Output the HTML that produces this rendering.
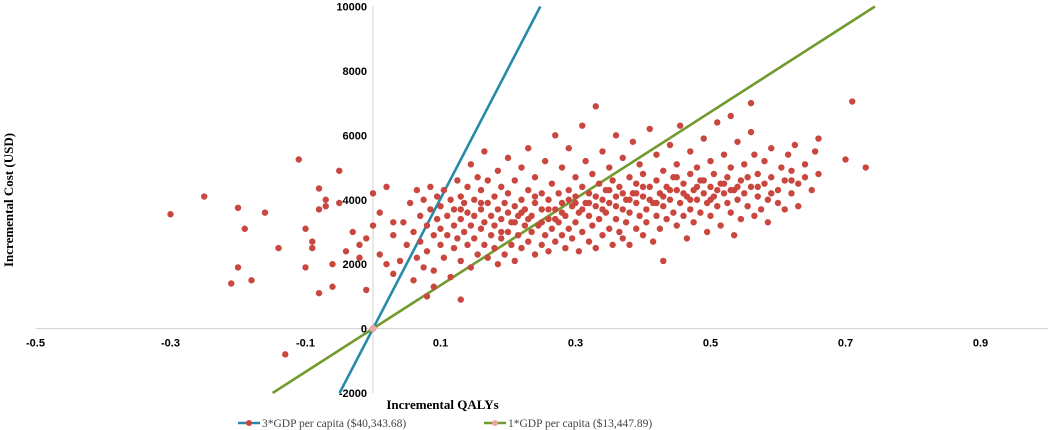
<!DOCTYPE html>
<html><head><meta charset="utf-8">
<style>
html,body{margin:0;padding:0;background:#fff;}
svg{display:block;font-family:"Liberation Serif",serif;}
</style></head>
<body>
<svg id="chart" width="1052" height="430">
  <g id="axes"></g>
  <g id="lines"></g>
  <g id="points"></g>
  <g id="labels"></g>
</svg>
<script>
const xTicks=[-0.5,-0.3,-0.1,0.1,0.3,0.5,0.7,0.9];
const yTicks=[-2000,0,2000,4000,6000,8000,10000];
const thresholds=[40343.68,13447.89];
const thresholdNames=["3*GDP per capita ($40,343.68)","1*GDP per capita ($13,447.89)"];
const thresholdColors=["#2a8aa6","#739a2e"];
// [incremental QALY, incremental cost]
const samples=[
[-0.30,3550],[-0.25,4100],[-0.20,3750],[-0.20,1900],[-0.21,1400],[-0.19,3100],[-0.16,3600],[-0.14,2500],[-0.18,1500],[-0.11,5250],[-0.10,3100],[-0.10,1900],[-0.09,2700],[-0.09,2500],[-0.08,1100],[-0.08,3700],[-0.08,4350],[-0.07,4000],[-0.07,3800],[-0.06,1300],[-0.06,2000],[-0.05,4900],[-0.05,3900],[-0.04,2400],[-0.03,3000],[-0.02,2200],[-0.02,2600],[-0.01,1200],[-0.01,2800],[0.0,3200],[0.0,4200],[0.01,2300],[0.01,3600],[0.02,2000],[0.02,4400],[0.03,2900],[0.03,3300],[-0.13,-800],[0.13,900],[0.09,1300],[0.08,1000],[0.03,1700],
[0.04,2100],[0.045,3300],[0.05,2600],[0.055,3900],[0.06,1500],[0.06,3000],[0.065,4300],[0.065,2200],[0.07,3500],[0.07,2700],[0.075,4000],[0.075,1900],
[0.08,3200],[0.08,2400],[0.085,3700],[0.085,4400],[0.09,2900],[0.09,1800],[0.095,3400],[0.095,4100],[0.1,2600],[0.1,3100],[0.1,3800],[0.105,2200],[0.105,4300],[0.11,2900],[0.11,3500],[0.115,1600],[0.115,4000],
[0.12,2500],[0.12,3200],[0.12,3700],[0.125,4600],[0.125,2800],[0.13,3400],[0.13,2100],[0.13,4100],[0.135,3000],[0.135,3900],[0.14,2600],[0.14,3600],[0.14,4400],[0.145,1900],[0.145,3200],[0.145,5100],
[0.15,2800],[0.15,3500],[0.15,4000],[0.155,2300],[0.155,4700],[0.16,3100],[0.16,3700],[0.16,4300],[0.165,2600],[0.165,3300],[0.165,5500],[0.17,2200],[0.17,3900],[0.17,4600],[0.175,2900],[0.175,3500],
[0.18,2500],[0.18,3200],[0.18,4100],[0.185,2000],[0.185,3700],[0.185,4900],[0.19,2800],[0.19,3400],[0.19,4400],[0.195,2300],[0.195,3900],[0.2,3000],[0.2,3600],[0.2,4200],[0.2,5300],[0.205,2600],[0.205,3300],
[0.21,2100],[0.21,3800],[0.21,4600],[0.215,2900],[0.215,3500],[0.22,2500],[0.22,4000],[0.22,5000],[0.225,3200],[0.225,3700],[0.23,2700],[0.23,4300],[0.23,5600],[0.235,3000],[0.235,3500],[0.24,2300],[0.24,3900],[0.24,4700],
[0.245,3200],[0.25,2600],[0.25,3700],[0.25,4200],[0.255,2900],[0.255,5200],[0.26,3400],[0.26,4000],[0.26,2400],[0.265,3100],[0.265,4500],[0.27,3700],[0.27,2700],[0.27,6000],[0.275,3300],[0.275,4200],[0.28,2900],[0.28,3900],[0.28,5000],
[0.285,3500],[0.285,2500],[0.29,4300],[0.29,3100],[0.29,5600],[0.295,3800],[0.295,2800],[0.3,3300],[0.3,4100],[0.3,4700],[0.305,2400],[0.305,3600],[0.31,3000],[0.31,4400],[0.31,6300],[0.315,3900],[0.315,5200],
[0.32,2700],[0.32,3500],[0.32,4200],[0.325,3200],[0.325,4800],[0.33,2500],[0.33,3800],[0.33,6900],[0.335,3400],[0.335,4500],[0.34,2900],[0.34,4000],[0.34,5500],[0.345,3600],[0.345,4300],[0.35,3100],[0.35,3900],[0.35,5000],[0.355,2600],[0.355,4600],
[0.36,3400],[0.36,4100],[0.36,6000],[0.365,3000],[0.365,4400],[0.37,3700],[0.37,2800],[0.37,5300],[0.375,4000],[0.375,3300],[0.38,4700],[0.38,3600],[0.38,2600],[0.385,4200],[0.385,5800],[0.39,3100],[0.39,3900],[0.39,4500],[0.395,3500],[0.395,5100],
[0.4,2900],[0.4,4100],[0.4,4800],[0.405,3700],[0.405,3300],[0.41,4400],[0.41,6200],[0.415,3900],[0.415,2700],[0.42,3500],[0.42,4600],[0.42,5400],[0.425,4200],[0.425,3100],[0.43,3800],[0.43,4900],[0.43,2100],[0.435,4400],[0.435,3400],[0.44,4000],[0.44,5700],[0.445,3600],[0.445,4700],
[0.45,3200],[0.45,4300],[0.45,5100],[0.455,3900],[0.455,6300],[0.46,4500],[0.46,3500],[0.465,4100],[0.465,2800],[0.47,4800],[0.47,3700],[0.47,5500],[0.475,4300],[0.475,3300],[0.48,4000],[0.48,5000],[0.485,4600],[0.485,3600],[0.49,4200],[0.49,5900],[0.495,3900],[0.495,3000],
[0.5,4400],[0.5,5200],[0.5,3500],[0.505,4100],[0.505,4800],[0.51,3800],[0.51,6400],[0.515,4500],[0.515,3200],[0.52,4200],[0.52,5400],[0.525,3900],[0.525,4700],[0.53,3600],[0.53,5000],[0.535,4300],[0.535,2900],[0.54,4000],[0.54,5800],[0.545,4600],[0.545,3400],
[0.55,4200],[0.55,5100],[0.555,3800],[0.555,4700],[0.56,4400],[0.56,6100],[0.565,3500],[0.565,5400],[0.57,4100],[0.57,4800],[0.575,3700],[0.58,4500],[0.58,5200],[0.585,4000],[0.585,3300],[0.59,4700],[0.59,5600],
[0.6,4300],[0.6,3900],[0.605,5000],[0.61,4600],[0.61,3700],[0.615,5400],[0.62,4200],[0.62,4900],[0.625,5700],[0.63,4500],[0.63,3800],[0.64,5100],[0.64,4700],[0.65,4300],[0.655,5500],[0.66,5900],[0.66,4800],
[0.70,5250],[0.71,7050],[0.73,5000],[0.56,7000],[0.53,6600],
[0.13,3700],[0.16,3900],[0.19,3000],[0.21,3300],[0.23,3400],[0.25,3300],[0.26,3700],[0.28,3600],[0.29,4000],[0.31,3700],[0.33,4100],[0.34,3700],[0.36,3800],[0.37,4200],[0.39,4200],[0.41,4000],[0.42,3900],[0.44,4300],[0.46,4200],[0.47,4000],[0.49,4600],[0.51,4300],[0.52,4500],[0.54,4400],[0.57,4400],[0.59,4200],[0.62,4600],[0.22,3600],[0.24,4100],[0.27,3400],[0.3,3900],[0.32,3900],[0.35,4300],[0.38,4000],[0.40,4400],[0.43,4100],[0.45,4700],[0.48,4400],[0.5,4000],[0.53,4300]
];

const NS="http://www.w3.org/2000/svg";
const X0=-0.5,X1=1.0,PX0=35.5,PX1=1048;
const Y0=-2000,Y1=10000,PY0=393,PY1=6.5;
function sx(v){return PX0+(v-X0)/(X1-X0)*(PX1-PX0);}
function sy(v){return PY0+(v-Y0)/(Y1-Y0)*(PY1-PY0);}
function mk(tag,attrs,parent){const e=document.createElementNS(NS,tag);for(const k in attrs)e.setAttribute(k,attrs[k]);parent.appendChild(e);return e;}
const axes=document.getElementById('axes'),lines=document.getElementById('lines'),pts=document.getElementById('points'),labs=document.getElementById('labels');

let xa=mk('line',{x1:PX0,x2:PX1,y1:sy(0),y2:sy(0),stroke:'#d0d0d0','stroke-width':1},axes);


let ya=mk('line',{x1:sx(0),x2:sx(0),y1:PY1,y2:PY0,stroke:'#d0d0d0','stroke-width':1},axes);



xTicks.forEach(t=>{
  const e=mk('text',{x:sx(t),y:sy(0)+18,'text-anchor':'middle','font-size':11,'font-weight':'bold','font-family':'Liberation Sans, sans-serif',fill:'#000'},labs);
  e.textContent=t.toFixed(1);
  
  
});
yTicks.forEach(t=>{
  const e=mk('text',{x:sx(0)-6,y:sy(t)+4,'text-anchor':'end','font-size':11,'font-weight':'bold','font-family':'Liberation Sans, sans-serif',fill:'#000'},labs);
  e.textContent=String(t);
  
  
});

thresholds.forEach((w,i)=>{
  const yA=Y0, yB=Y1;
  const l=mk('line',{x1:sx(yA/w),y1:sy(yA),x2:sx(yB/w),y2:sy(yB),stroke:thresholdColors[i],'stroke-width':2.6},lines);
  
  
});

samples.forEach(p=>{
  const c=mk('circle',{cx:sx(p[0]),cy:sy(p[1]),r:3.2,fill:'#c9473f'},pts);
  
  
});
const o=mk('circle',{cx:sx(0),cy:sy(0),r:3.5,fill:'#e8a9a4'},pts);



let t=mk('text',{x:sx(0.1)+2,y:409,'text-anchor':'middle','font-size':13,'font-weight':'bold',fill:'#000'},labs);
t.textContent='Incremental QALYs';


t=mk('text',{x:0,y:0,'text-anchor':'middle','font-size':13,'font-weight':'bold',fill:'#000',transform:'translate(13,200) rotate(-90)'},labs);
t.textContent='Incremental Cost (USD)';



const legX=[238,484];
thresholdNames.forEach((n,i)=>{
  const g=mk('g',{},labs);
  
  
  const x=legX[i];
  mk('line',{x1:x,x2:x+22,y1:423,y2:423,stroke:thresholdColors[i],'stroke-width':2.6},g);
  mk('circle',{cx:x+11,cy:423,r:3,fill:i===0?'#c9473f':'#e8a9a4'},g);
  const tx=mk('text',{x:x+24,y:427,'font-size':11.5,fill:'#444'},g);
  tx.textContent=n;
});
</script>
</body></html>
